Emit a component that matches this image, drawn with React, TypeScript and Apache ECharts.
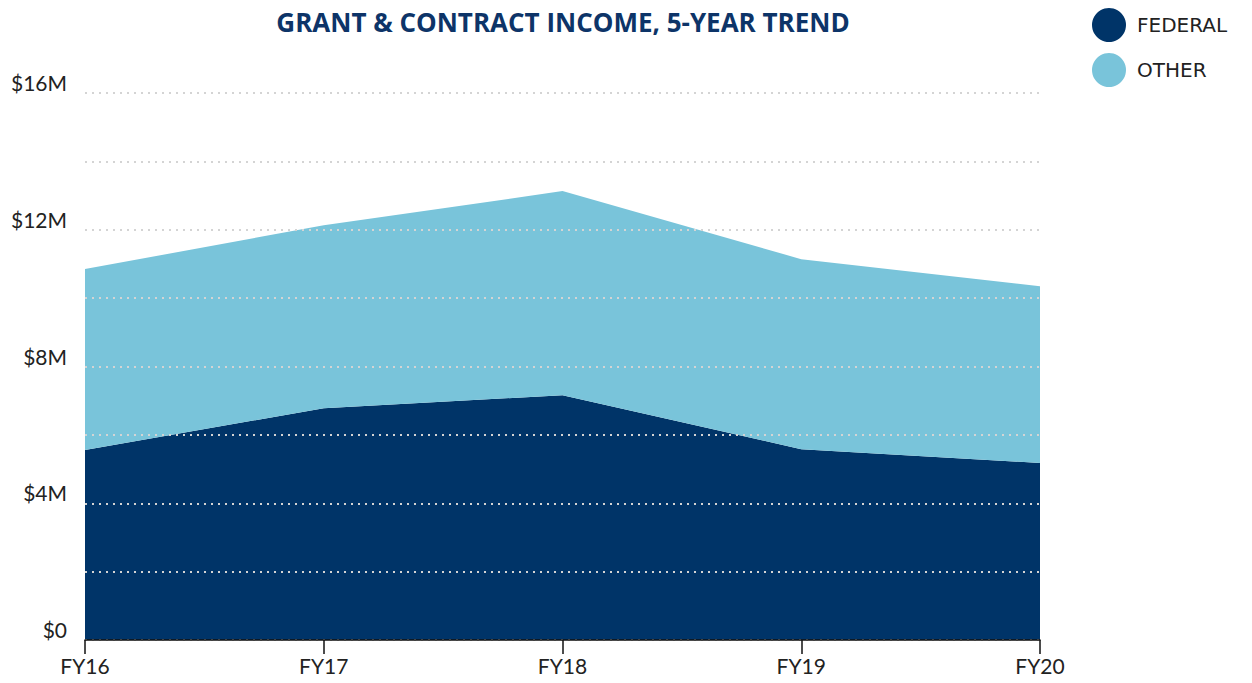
import React, { useEffect, useRef } from "react";
import * as echarts from "echarts";

const categories = ["FY16", "FY17", "FY18", "FY19", "FY20"];
const federal = [5.56, 6.78, 7.16, 5.58, 5.18];
const other = [5.29, 5.35, 5.97, 5.56, 5.17];
const yTicks = [0, 4, 8, 12, 16];

export default function App() {
  const ref = useRef<HTMLDivElement>(null);
  useEffect(() => {
    const chart = echarts.init(ref.current!, null, { renderer: "svg" });
    const font = "Lato, 'Noto Sans', sans-serif";
    const wide = "'Open Sans', 'Noto Sans', sans-serif";
    chart.setOption({
      animation: false,
      title: {
        text: "GRANT & CONTRACT INCOME, 5-YEAR TREND",
        left: 558,
        textAlign: "center",
        top: 4,
        textStyle: { fontFamily: wide, fontWeight: "bold", fontSize: 26, color: "#0d3468" },
      },
      legend: {
        orient: "vertical",
        left: 1087,
        top: 3,
        icon: "circle",
        itemWidth: 34,
        itemHeight: 34,
        itemGap: 11,
        textStyle: { fontFamily: "'DejaVu Sans', sans-serif", fontSize: 20, color: "#222", padding: [0, 0, 0, 6] },
        data: ["FEDERAL", "OTHER"],
      },
      grid: { left: 85, right: 212, top: 93, bottom: 43, containLabel: false },
      xAxis: {
        type: "category",
        data: categories,
        boundaryGap: false,
        axisLine: { lineStyle: { color: "#111", width: 1.5 } },
        axisTick: { length: 14, lineStyle: { color: "#111", width: 1.5 } },
        axisLabel: { fontFamily: font, fontSize: 21, color: "#222", margin: 15 },
        z: 5,
      },
      yAxis: {
        type: "value",
        min: 0,
        max: 16,
        interval: 2,
        axisLine: { show: false },
        axisTick: { show: false },
        axisLabel: {
          fontFamily: font,
          fontSize: 21,
          color: "#222",
          margin: 18,
          verticalAlign: "bottom",
          formatter: (v: number) => (yTicks.includes(v) ? (v === 0 ? "$0" : `$${v}M`) : ""),
        },
        splitLine: { lineStyle: { color: "#d4d4d4", width: 2, type: [2, 5] } },
        z: 4,
      },
      series: [
        {
          name: "FEDERAL",
          type: "line",
          stack: "total",
          data: federal,
          symbol: "none",
          lineStyle: { width: 0 },
          itemStyle: { color: "#003468" },
          areaStyle: { color: "#003468", opacity: 1 },
          z: 1,
        },
        {
          name: "OTHER",
          type: "line",
          stack: "total",
          data: other,
          symbol: "none",
          lineStyle: { width: 0 },
          itemStyle: { color: "#79c4da" },
          areaStyle: { color: "#79c4da", opacity: 1 },
          z: 1,
        },
      ],
    });
    return () => chart.dispose();
  }, []);
  return (
    <div
      ref={ref}
      style={{ position: "absolute", left: 0, top: 0, width: 1252, height: 683 }}
    />
  );
}
